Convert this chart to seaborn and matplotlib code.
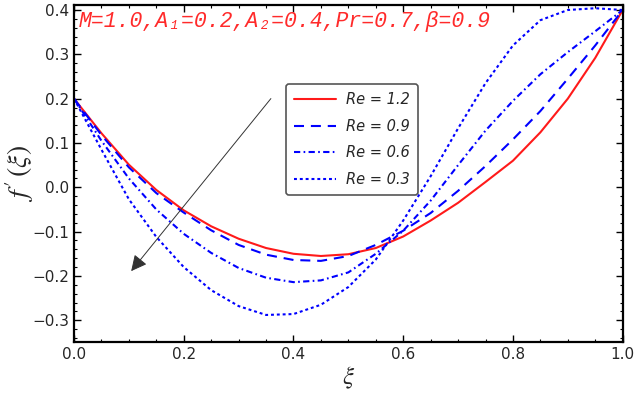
import numpy as np
import pandas as pd
import seaborn as sns
import matplotlib
matplotlib.use("Agg")
import matplotlib.pyplot as plt

# xi grid and f'(xi) values
xi = [0.00, 0.05, 0.10, 0.15, 0.20, 0.25, 0.30, 0.35, 0.40, 0.45, 0.50,
      0.55, 0.60, 0.65, 0.70, 0.75, 0.80, 0.85, 0.90, 0.95, 1.00]
re_12 = [0.200, 0.122, 0.051, -0.006, -0.052, -0.088, -0.116, -0.137, -0.150, -0.155, -0.151,
         -0.137, -0.111, -0.075, -0.035, 0.012, 0.060, 0.124, 0.200, 0.292, 0.400]
re_09 = [0.200, 0.118, 0.045, -0.013, -0.057, -0.097, -0.130, -0.152, -0.164, -0.166, -0.155,
         -0.130, -0.098, -0.058, -0.008, 0.048, 0.108, 0.172, 0.245, 0.320, 0.400]
re_06 = [0.200, 0.105, 0.020, -0.050, -0.105, -0.148, -0.182, -0.204, -0.214, -0.210, -0.192,
         -0.150, -0.098, -0.030, 0.050, 0.128, 0.195, 0.255, 0.305, 0.352, 0.400]
re_03 = [0.200, 0.085, -0.027, -0.112, -0.180, -0.232, -0.268, -0.288, -0.286, -0.265, -0.225,
         -0.163, -0.075, 0.025, 0.133, 0.235, 0.320, 0.377, 0.400, 0.404, 0.400]

labels = ["Re = 1.2", "Re = 0.9", "Re = 0.6", "Re = 0.3"]
series = [re_12, re_09, re_06, re_03]
colors = ["#ff1a1a", "#0000ff", "#0000ff", "#0000ff"]
styles = ["-", (0, (4.8, 3.3)), (0, (3.0, 1.6, 0.8, 1.6)), (0, (1.4, 1.4))]

sns.set_style("ticks")
plt.rcParams["mathtext.fontset"] = "stix"

fig = plt.figure(figsize=(6.38, 3.94), dpi=100)
ax = fig.add_axes([0.116, 0.132, 0.860, 0.855])

for lab, vals, c, ls in zip(labels, series, colors, styles):
    sns.lineplot(x=xi, y=vals, ax=ax, color=c, linestyle=ls, lw=1.5, label=lab)

yt = np.round(np.arange(-0.3, 0.41, 0.1), 1)
ax.set_xlim(0, 1)
ax.set_ylim(-0.349, 0.411)
ax.set_xticks(np.arange(0, 1.01, 0.2))
ax.set_yticks(yt)
ax.set_xticks(np.arange(0, 1.001, 0.05), minor=True)
ax.set_yticks(np.arange(-0.34, 0.41, 0.02), minor=True)
ax.set_xticklabels([f"{v:.1f}" for v in np.arange(0, 1.01, 0.2)])
ax.set_yticklabels([f"{v:.1f}".replace("-", "\u2212") if v != 0 else "0.0" for v in yt])
ax.tick_params(which="both", direction="in", top=True, right=True, labelsize=11, color="black")
ax.tick_params(which="major", length=5, width=1)
ax.tick_params(which="minor", length=2.5, width=0.8)
for s in ax.spines.values():
    s.set_linewidth(1.6)
    s.set_color("black")

ax.set_xlabel(r"$\xi$", fontsize=18, labelpad=2)
ax.set_ylabel(r"$f\,'\,(\xi)$", fontsize=20)
ax.yaxis.set_label_coords(-0.07, 0.5)

ax.text(0.008, 0.373, "M=1.0,A\u2081=0.2,A\u2082=0.4,Pr=0.7,\u03b2=0.9",
        color="#ff2a2a", fontsize=15.5, fontstyle="italic",
        family=["Liberation Mono", "DejaVu Sans Mono"], va="center", ha="left")

ax.annotate("", xy=(0.101, -0.194), xytext=(0.362, 0.205),
            arrowprops=dict(arrowstyle="-|>", color="#333333", lw=0.7, mutation_scale=24))

leg = ax.legend(loc="upper left", bbox_to_anchor=(0.386, 0.766), borderaxespad=0,
                frameon=True, fancybox=True, edgecolor="#555555", framealpha=1,
                handlelength=2.9, handletextpad=0.7, labelspacing=0.8,
                borderpad=0.55, prop={"size": 10.5, "style": "italic"})
leg.get_frame().set_linewidth(1.2)

fig.savefig("out.png", dpi=100)
